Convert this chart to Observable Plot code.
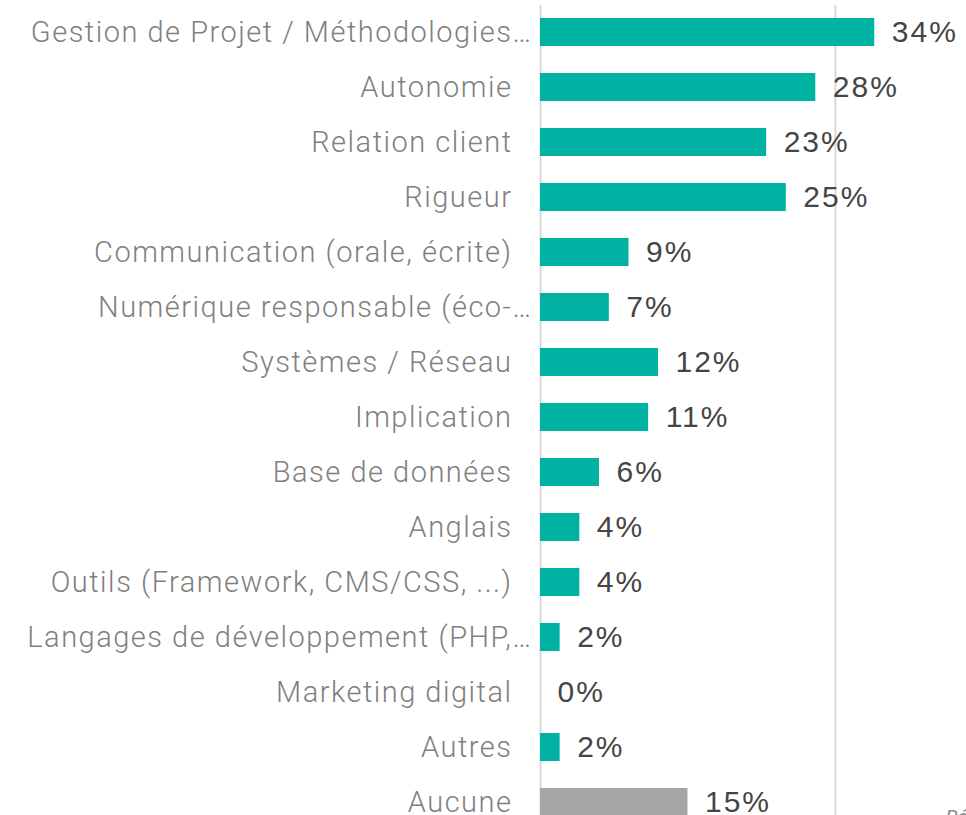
<!DOCTYPE html>
<html>
<head>
<meta charset="utf-8">
<script src="https://cdn.jsdelivr.net/npm/d3@7"></script>
<script src="https://cdn.jsdelivr.net/npm/@observablehq/plot@0.6"></script>
<style>
  html, body { margin: 0; padding: 0; background: #fff; overflow: hidden; }
  #chart svg { display: block; }
  g[aria-description="labels"] text { letter-spacing: 1.5px; }
  g[aria-description="values"] text { letter-spacing: 2px; }
</style>
</head>
<body>
<div id="chart"></div>
<script>
const categories = [
  "Gestion de Projet / Méthodologies…",
  "Autonomie",
  "Relation client",
  "Rigueur",
  "Communication (orale, écrite)",
  "Numérique responsable (éco-…",
  "Systèmes / Réseau",
  "Implication",
  "Base de données",
  "Anglais",
  "Outils (Framework, CMS/CSS, ...)",
  "Langages de développement (PHP,…",
  "Marketing digital",
  "Autres",
  "Aucune"
];
const values = [34, 28, 23, 25, 9, 7, 12, 11, 6, 4, 4, 2, 0, 2, 15];
const groups = ["skill","skill","skill","skill","skill","skill","skill","skill","skill","skill","skill","skill","skill","skill","none"];
const gridTicks = [0, 30];
const captionText = ["Répondants"];

const data = categories.map((c, i) => ({label: c, value: values[i], group: groups[i]}));
const truncated = d => d.label.endsWith("…");

const labelStyle = {
  x: 0, y: "label", text: "label", textAnchor: "end",
  fontSize: 29, fontWeight: 300, fill: "#808080", fontFamily: "'Roboto Light', Roboto, sans-serif",
  ariaDescription: "labels"
};

const chart = Plot.plot({
  width: 966,
  height: 815,
  marginLeft: 540,
  marginRight: 0,
  marginTop: 0,
  marginBottom: 0,
  style: {fontFamily: "Roboto, sans-serif", background: "#fff"},
  x: {domain: [0, 43.33], axis: null},
  y: {domain: categories, range: [-9, 843], padding: 0.49, axis: null},
  color: {domain: ["skill", "none"], range: ["#00b2a2", "#a5a5a5"]},
  marks: [
    Plot.ruleX(gridTicks, {x: d => d, stroke: "#d9d9d9", strokeWidth: 2, insetTop: 5}),
    Plot.barX(data, {x: "value", y: "label", fill: "group"}),
    Plot.text(data, {...labelStyle, filter: d => !truncated(d), dx: -28}),
    Plot.text(data, {...labelStyle, filter: truncated, dx: -8}),
    Plot.text(data, {
      x: "value", y: "label", text: d => d.value + "%", textAnchor: "start", dx: 17,
      fontSize: 30, fill: "#454545", fontFamily: "'Liberation Sans', Arial, sans-serif",
      ariaDescription: "values"
    }),
    Plot.text(captionText, {
      frameAnchor: "bottom-left", text: d => d, textAnchor: "start", dx: 405, dy: 8,
      fontSize: 20, fontStyle: "italic", fill: "#8c8c8c", lineAnchor: "bottom"
    })
  ]
});
document.getElementById("chart").appendChild(chart);
</script>
</body>
</html>
